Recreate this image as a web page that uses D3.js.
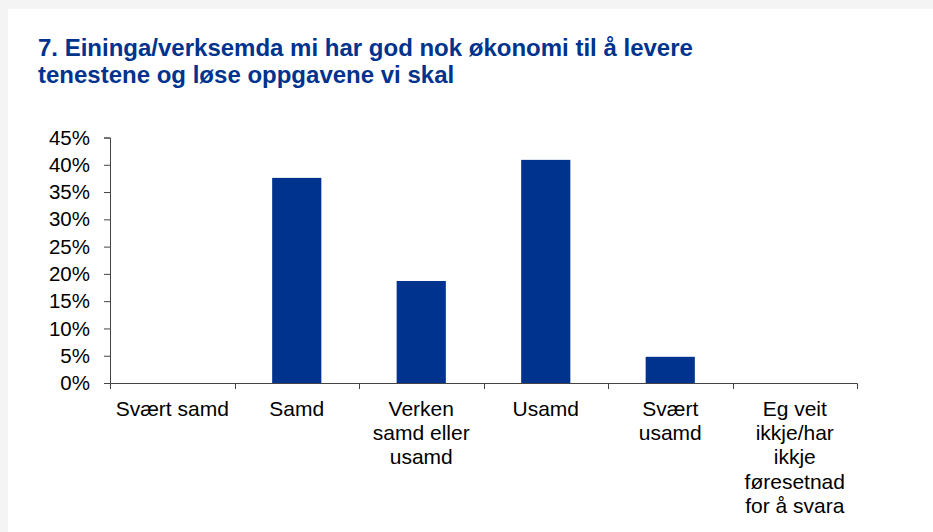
<!DOCTYPE html>
<html>
<head>
<meta charset="utf-8">
<script src="https://cdn.jsdelivr.net/npm/d3@7"></script>
<style>
  html, body { margin: 0; padding: 0; background: #f4f4f4; }
  svg { display: block; }
</style>
</head>
<body>
<div id="chart"></div>
<script>
// data
var categories = ["Svært samd", "Samd", "Verken samd eller usamd", "Usamd", "Svært usamd", "Eg veit ikkje/har ikkje føresetnad for å svara"]
var categoryLines = [
    ["Svært samd"],
    ["Samd"],
    ["Verken", "samd eller", "usamd"],
    ["Usamd"],
    ["Svært", "usamd"],
    ["Eg veit", "ikkje/har", "ikkje", "føresetnad", "for å svara"]
]
var values = [0, 0.376, 0.187, 0.409, 0.048, 0]
var yTicks = [0, 0.05, 0.10, 0.15, 0.20, 0.25, 0.30, 0.35, 0.40, 0.45]
var titleLines = ["7. Eininga/verksemda mi har god nok økonomi til å levere", "tenestene og løse oppgavene vi skal"]

function drawChart() {
    var width = 933
    var height = 532
    var blue = "#00338d"

    const svg = d3.select("#chart")
        .append("svg")
        .attr("width", width)
        .attr("height", height)
        .style("font-family", "'Liberation Sans', Arial, sans-serif")

    // white panel with grey page edge
    svg.append("rect")
        .attr("x", 8).attr("y", 9)
        .attr("width", width - 8).attr("height", height - 9)
        .attr("fill", "#fff")

    svg.append("g").selectAll("text")
        .data(titleLines)
        .enter().append("text")
        .attr("x", 38)
        .attr("y", (d, i) => 56 + i * 27)
        .attr("fill", blue)
        .style("font-size", "24px")
        .style("font-weight", "bold")
        .text(d => d)

    var x = d3.scaleBand()
        .domain(categories)
        .range([110, 857])
        .padding(0)

    var y = d3.scaleLinear()
        .domain([0, 0.45])
        .range([383, 137.5])

    var barW = x.bandwidth() * 0.395

    svg.append("g").selectAll("rect")
        .data(values)
        .enter().append("rect")
        .attr("x", (d, i) => x(categories[i]) + (x.bandwidth() - barW) / 2)
        .attr("y", d => y(d))
        .attr("width", barW)
        .attr("height", d => y(0) - y(d))
        .attr("fill", blue)

    // y axis
    const yAxis = svg.append("g")
        .attr("transform", "translate(110,0)")
        .call(d3.axisLeft(y).tickValues(yTicks).tickFormat(d3.format(".0%")).tickSize(6).tickPadding(14))
    yAxis.selectAll("text")
        .style("font-size", "20.5px")
        .attr("fill", "#000")
        .attr("font-family", null)
    yAxis.selectAll("line, path").attr("stroke", "#444")

    // x axis, ticks at category boundaries
    const xAxis = svg.append("g")
        .attr("transform", "translate(0,383)")
        .call(d3.axisBottom(x).tickSize(0).tickSizeOuter(6).tickFormat(""))
    xAxis.selectAll("path").attr("stroke", "#444")

    xAxis.selectAll("line.bound")
        .data(categories.slice(1))
        .enter().append("line")
        .attr("class", "bound")
        .attr("x1", d => Math.round(x(d)) + 0.5)
        .attr("x2", d => Math.round(x(d)) + 0.5)
        .attr("y1", 0)
        .attr("y2", 6)
        .attr("stroke", "#444")

    const labels = svg.append("g").selectAll("text")
        .data(categories)
        .enter().append("text")
        .attr("text-anchor", "middle")
        .attr("fill", "#000")
        .style("font-size", "21px")

    labels.selectAll("tspan")
        .data((d, i) => categoryLines[i].map(t => ({ t: t, c: d })))
        .enter().append("tspan")
        .attr("x", d => x(d.c) + x.bandwidth() / 2)
        .attr("y", (d, j) => 416 + j * 24.2)
        .text(d => d.t)

    return svg.node()
}

drawChart()
</script>
</body>
</html>
